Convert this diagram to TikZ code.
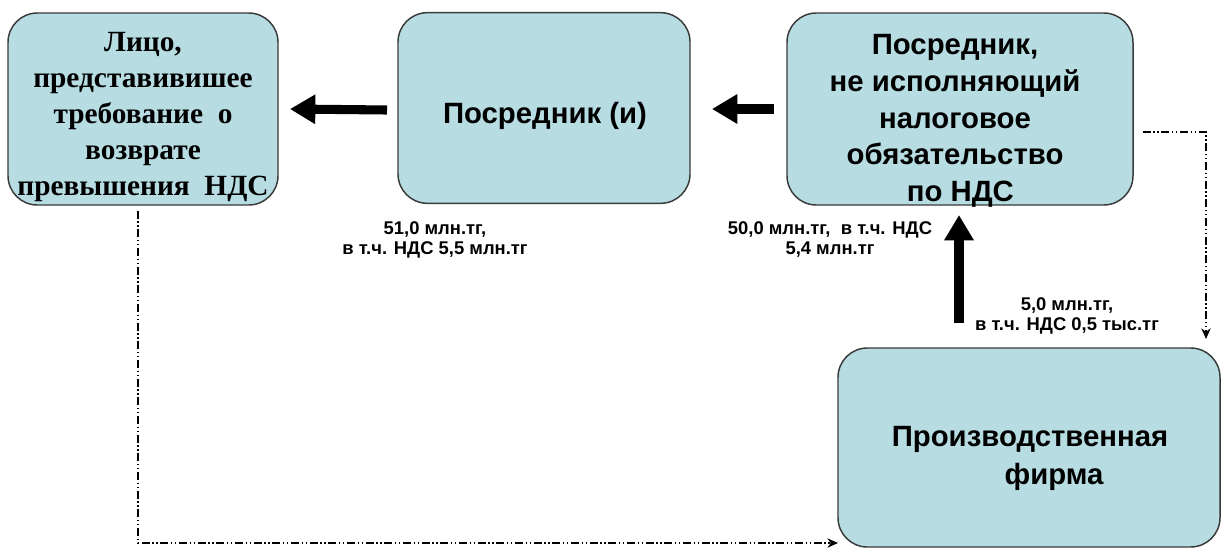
\documentclass[tikz,border=0pt]{standalone}
\usepackage{fontspec}
\setmainfont{Liberation Serif}
\newfontfamily\boxsans{Liberation Sans}
\usetikzlibrary{arrows.meta}
\definecolor{boxfill}{HTML}{B7DDE3}
\definecolor{boxline}{HTML}{3A3A3A}
\begin{document}
\begin{tikzpicture}[x=0.75pt,y=-0.75pt,
  box/.style={draw=boxline,fill=boxfill,line width=1.1pt,rounded corners=22pt,inner sep=0pt},
  boxtext/.style={align=center,inner sep=0pt},
  seriftext/.style={boxtext,font=\bfseries\fontsize{22}{27}\selectfont},
  sanstext/.style={boxtext,font=\boxsans\bfseries\fontsize{22}{27.5}\selectfont},
  bigarrow/.style={line width=6.8pt,-{Triangle[length=19pt,width=21pt]}},
  flowline/.style={line width=0.9pt,dash pattern=on 6pt off 2pt on 1pt off 2pt on 1pt off 2pt,-{Stealth[length=8pt,width=7pt]}},
  lbl/.style={font=\boxsans\bfseries\fontsize{13.8}{15}\selectfont,align=center,inner sep=0pt}]
\useasboundingbox (0,0) rectangle (1223,550);
\node[box,minimum width=202.5pt,minimum height=144pt] (lico) at (143,109) {};
\node[seriftext] (licot) at (143,117) {Лицо,\\представивишее\\требование \ о\\возврате\\превышения\ \ НДС};
\node[box,minimum width=219pt,minimum height=143pt] (posr) at (544,108) {};
\node[sanstext] (posrt) at (545,116) {Посредник (и)};
\node[box,minimum width=259.5pt,minimum height=144pt] (neisp) at (960,109) {};
\node[sanstext] (neispt) at (955,121) {Посредник,\\не исполняющий\\налоговое\\обязательство\\\hspace*{8pt}по НДС};
\node[box,minimum width=286.5pt,minimum height=149.25pt] (firm) at (1029,447.5) {};
\node[sanstext,font=\boxsans\bfseries\fontsize{22}{28.5}\selectfont] (firmt) at (1030,458) {Производственная\\\hspace*{36pt}фирма};
\draw[bigarrow] (387,110) -- (lico.east -| 290,0) coordinate (a1);
\draw[bigarrow] (neisp.west |- 0,109) ++(-12,0) coordinate (s2) -- (712,109);
\draw[bigarrow] (959,323) coordinate (s3) -- (959,215);
\coordinate (c1) at (1206,132);
\coordinate (e1) at (1206,339);
\draw[flowline] (neisp.east |- c1) ++(9,0) -- (c1) -- (e1);
\coordinate (c2) at (138,543);
\coordinate (e2) at (838,543);
\draw[flowline] (lico.south -| c2) ++(0,5) -- (c2) -- (e2);
\node[lbl] (l1) at (435,240) {51,0 млн.тг,\\в т.ч. НДС 5,5 млн.тг};
\node[lbl] (l2) at (830,239) {50,0 млн.тг,\ \ в т.ч. НДС\\5,4 млн.тг};
\node[lbl] (l3) at (1067,316) {5,0 млн.тг,\\в т.ч. НДС 0,5 тыс.тг};
\end{tikzpicture}
\end{document}
